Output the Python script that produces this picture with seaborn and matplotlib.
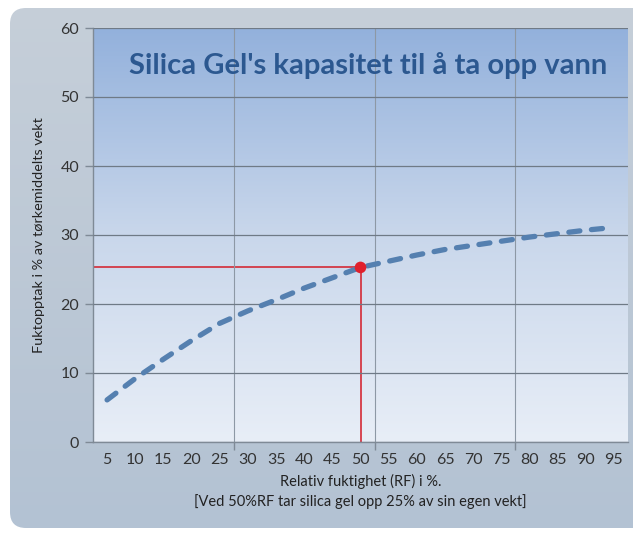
import numpy as np
import matplotlib.pyplot as plt
import seaborn as sns
from matplotlib.patches import FancyBboxPatch
from matplotlib.colors import LinearSegmentedColormap

# data
rh = [5, 10, 15, 20, 25, 30, 35, 40, 45, 50, 55, 60, 65, 70, 75, 80, 85, 90, 95]
uptake = [6.1, 9.2, 12.0, 14.7, 17.2, 19.0, 20.6, 22.3, 23.8, 25.3,
          26.2, 27.1, 27.9, 28.5, 29.1, 29.7, 30.2, 30.7, 31.1]
y_ticks = [0, 10, 20, 30, 40, 50, 60]
mark_rh = 50
mark_val = uptake[rh.index(mark_rh)]

title = "Silica Gel's kapasitet til å ta opp vann"
xlabel = "Relativ fuktighet (RF) i %.\n[Ved 50%RF tar silica gel opp 25% av sin egen vekt]"
ylabel = "Fuktopptak i % av tørkemiddelts vekt"

sns.set_theme(style="white")
plt.rcParams['font.family'] = ['Lato', 'DejaVu Sans']

W, H = 633, 534
fig = plt.figure(figsize=(W / 100, H / 100), dpi=100)
fig.patch.set_facecolor("white")

# outer rounded panel with gradient
bg = fig.add_axes([0, 0, 1, 1])
bg.set_xlim(0, W)
bg.set_ylim(0, H)
bg.axis("off")
outer_cmap = LinearSegmentedColormap.from_list("outer", ["#b3c2d3", "#c6cfd9"])
grad = np.linspace(0, 1, 256).reshape(-1, 1)
img = bg.imshow(grad, cmap=outer_cmap, extent=[0, W, 0, H], origin="lower", aspect="auto")
panel = FancyBboxPatch((10, 6), 660, 520, boxstyle="round,pad=0,rounding_size=16",
                       facecolor="none", edgecolor="none")
bg.add_patch(panel)
img.set_clip_path(panel)

# plot area
left, right, top, bottom = 93, 628, 28, 442
ax = fig.add_axes([left / W, (H - bottom) / H, (right - left) / W, (bottom - top) / H])
ax.set_xlim(2.5, 97.5)
ax.set_ylim(0, 60)
inner_cmap = LinearSegmentedColormap.from_list("inner", ["#e8eef7", "#c9d7eb", "#93b1dc"])
ax.imshow(grad, cmap=inner_cmap, extent=[0, 1, 0, 1], origin="lower", aspect="auto",
          transform=ax.transAxes, zorder=0)

sns.lineplot(x=rh, y=uptake, ax=ax, color="#5580b0", lw=3.8,
             linestyle=(0, (2.1, 2.2)), zorder=3)
ax.lines[-1].set_dash_capstyle("round")

ax.hlines(mark_val, ax.get_xlim()[0], mark_rh, color="#d42a36", lw=1.2, zorder=2)
ax.vlines(mark_rh, 0, mark_val, color="#d42a36", lw=1.2, zorder=2)
sns.scatterplot(x=[mark_rh], y=[mark_val], ax=ax, color="#e0202c", s=70,
                edgecolor="none", zorder=4)

ax.set_xticks(rh)
ax.set_xticklabels([str(v) for v in rh])
ax.set_xticks([27.5, 52.5, 77.5], minor=True)
ax.set_yticks(y_ticks)
ax.tick_params(axis="x", which="major", length=0, pad=8, labelsize=11.5, labelcolor="#333333")
ax.tick_params(axis="x", which="minor", length=6, color="#7f8a96", width=1, bottom=True)
ax.tick_params(axis="y", length=6, color="#7f8a96", width=1, left=True, pad=4,
               labelsize=11.5, labelcolor="#333333")
ax.grid(axis="x", which="minor", color="#8d98a5", lw=0.8)
ax.grid(axis="y", which="major", color="#6f7a86", lw=0.9)
ax.set_axisbelow(False)
for line in ax.get_xgridlines() + ax.get_ygridlines():
    line.set_zorder(1)

for s in ["top", "right"]:
    ax.spines[s].set_visible(False)
for s in ["left", "bottom"]:
    ax.spines[s].set_color("#7f8a96")
    ax.spines[s].set_linewidth(1)

ax.set_xlabel(xlabel, fontsize=10.5, color="#222222", labelpad=5, linespacing=1.4)
ax.set_ylabel(ylabel, fontsize=10.4, color="#222222", labelpad=11)
ax.text(0.514, 0.91, title, transform=ax.transAxes, ha="center", va="center",
        fontsize=21, fontweight="bold", color="#2c5890", zorder=5)

fig.savefig("out.png", dpi=100)
